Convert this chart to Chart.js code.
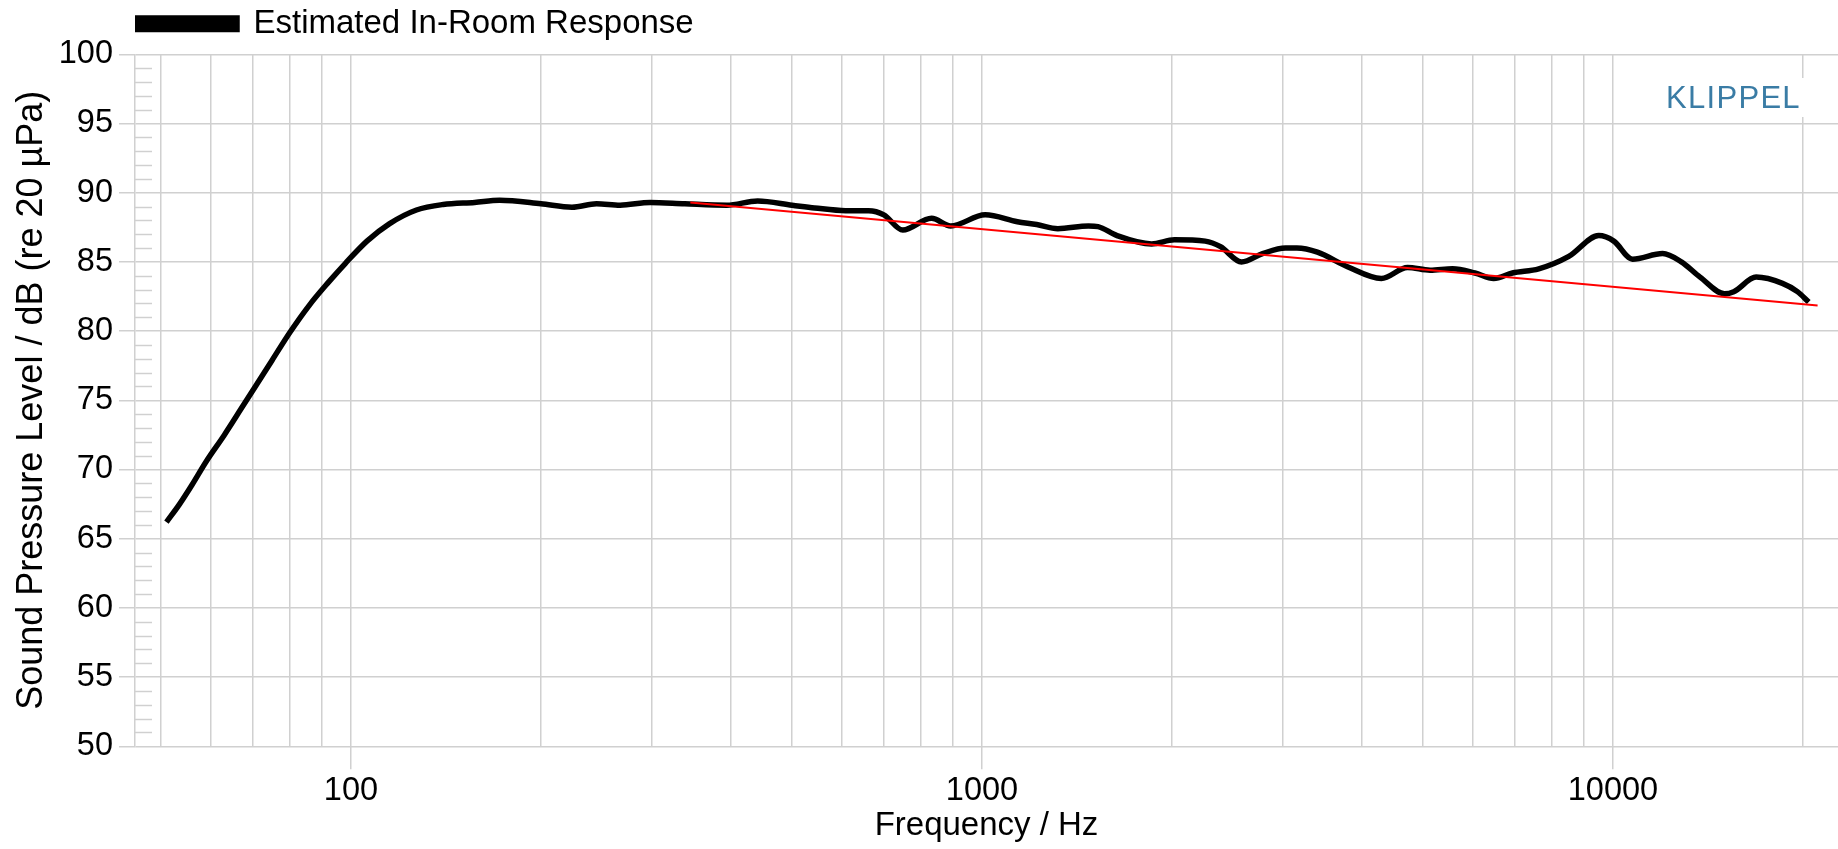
<!DOCTYPE html>
<html>
<head>
<meta charset="utf-8">
<title>Estimated In-Room Response</title>
<script src="https://cdn.jsdelivr.net/npm/chart.js@4.4.1/dist/chart.umd.min.js"></script>
<style>
  html, body { margin: 0; padding: 0; background: #fff; }
  canvas { display: block; }
</style>
</head>
<body>
<canvas id="spl" width="1838" height="849"></canvas>
<script>
// Estimated in-room response (KLIPPEL style plot)
const FREQ_HZ = [51, 53.5, 56, 59, 63, 67, 71, 75, 80, 86, 92, 98, 106, 115, 127, 140, 157, 172,
  200, 224, 245, 267, 298, 338, 394, 441, 500, 543, 608, 661, 699, 749, 832, 892, 1012, 1138,
  1221, 1319, 1475, 1527, 1637, 1857, 2018, 2258, 2388, 2578, 2784, 3027, 3155, 3401, 3795,
  4295, 4725, 5130, 5568, 6043, 6471, 6929, 7627, 8511, 9495, 10030, 10742, 11986, 12834,
  13740, 15020, 15540, 16860, 18560, 19600, 20430];
const SPL_DB = [66.2, 67.5, 68.9, 70.6, 72.5, 74.4, 76.2, 77.9, 79.9, 81.9, 83.5, 84.9, 86.5, 87.75,
  88.75, 89.15, 89.3, 89.45, 89.2, 88.95, 89.2, 89.1, 89.3, 89.2, 89.1, 89.4, 89.1, 88.9, 88.7,
  88.7, 88.4, 87.3, 88.15, 87.6, 88.4, 87.9, 87.7, 87.4, 87.6, 87.55, 86.9, 86.3, 86.6, 86.5,
  86.1, 85.0, 85.6, 86.0, 86.0, 85.7, 84.65, 83.8, 84.6, 84.4, 84.5, 84.2, 83.8, 84.2, 84.5,
  85.4, 86.9, 86.5, 85.2, 85.6, 85.0, 83.9, 82.7, 82.85, 83.9, 83.45, 82.85, 82.1];

// straight trend line (red)
const TREND_HZ = [345, 21100];
const TREND_DB = [89.3, 81.85];

const X_MIN = 45.47;
const X_MAX = 22730;
const X_GRID = [50, 60, 70, 80, 90, 100, 200, 300, 400, 500, 600, 700, 800, 900,
  1000, 2000, 3000, 4000, 5000, 6000, 7000, 8000, 9000, 10000, 20000];
const X_LABELS = [100, 1000, 10000];
const Y_MIN = 50;
const Y_MAX = 100;
const Y_STEP = 5;

const GRID = '#d0d0d0';
const FONT = "'Liberation Sans', Arial, sans-serif";

Chart.defaults.color = '#000';
Chart.defaults.font.family = FONT;

// ── small plugins ────────────────────────────────────────────────
const minorTicks = {
  id: 'minorTicks',
  beforeDatasetsDraw(chart) {
    const { ctx, chartArea, scales: { y } } = chart;
    ctx.save();
    ctx.strokeStyle = GRID;
    ctx.lineWidth = 1.5;
    for (let v = Y_MIN + 1; v < Y_MAX; v++) {
      if (v % Y_STEP === 0) continue;
      const py = Math.round(y.getPixelForValue(v)) + 0.5;
      ctx.beginPath();
      ctx.moveTo(chartArea.left, py);
      ctx.lineTo(chartArea.left + 17, py);
      ctx.stroke();
    }
    ctx.restore();
  }
};

const brand = {
  id: 'brand',
  beforeDatasetsDraw(chart) {
    const ctx = chart.ctx;
    ctx.save();
    ctx.fillStyle = '#fff';
    ctx.fillRect(1660, 78, 150, 39);
    ctx.font = '31px ' + FONT;
    ctx.letterSpacing = '1.3px';
    ctx.fillStyle = '#3a7ca5';
    ctx.textAlign = 'left';
    ctx.textBaseline = 'alphabetic';
    ctx.fillText('KLIPPEL', 1666, 108);
    ctx.restore();
  }
};

const legendNudge = {
  id: 'legendNudge',
  afterLayout(chart) {
    chart.legend.top -= 4;
    chart.legend.bottom -= 4;
  }
};

// ── chart ────────────────────────────────────────────────────────
const ctx = document.getElementById('spl').getContext('2d');
new Chart(ctx, {
  type: 'line',
  data: {
    datasets: [{
      label: 'Estimated In-Room Response',
      data: FREQ_HZ.map((f, i) => ({ x: f, y: SPL_DB[i] })),
      borderColor: '#000',
      backgroundColor: '#000',
      borderWidth: 5.5,
      pointRadius: 0,
      cubicInterpolationMode: 'monotone',
      order: 2
    }, {
      label: 'trend',
      data: TREND_HZ.map((f, i) => ({ x: f, y: TREND_DB[i] })),
      borderColor: '#ff0000',
      backgroundColor: '#ff0000',
      borderWidth: 2,
      pointRadius: 0,
      order: 1
    }]
  },
  options: {
    responsive: false,
    animation: false,
    devicePixelRatio: 1,
    layout: { padding: { top: 9.3, left: 0, right: 0, bottom: 0 } },
    plugins: {
      tooltip: { enabled: false },
      legend: {
        position: 'top',
        align: 'start',
        fullSize: false,
        labels: {
          boxWidth: 100,
          boxHeight: 11.5,
          padding: 2,
          color: '#000',
          font: { size: 33 },
          filter: item => item.text !== 'trend'
        }
      }
    },
    scales: {
      x: {
        type: 'logarithmic',
        min: X_MIN,
        max: X_MAX,
        afterBuildTicks: s => { s.ticks = X_GRID.map(v => ({ value: v })); },
        afterFit: s => { s.height = 102.7; },
        ticks: {
          autoSkip: false,
          maxRotation: 0,
          padding: 2,
          font: { size: 32.5 },
          callback: v => X_LABELS.includes(v) ? String(v) : ''
        },
        grid: {
          color: GRID,
          lineWidth: 1.5,
          tickLength: 23,
          tickColor: c => (c.tick && X_LABELS.includes(c.tick.value)) ? GRID : 'rgba(0,0,0,0)'
        },
        border: { display: false },
        title: {
          display: true,
          text: 'Frequency / Hz',
          font: { size: 33 },
          padding: { top: 0, bottom: 3 }
        }
      },
      y: {
        min: Y_MIN,
        max: Y_MAX,
        afterFit: s => { s.width = 135; },
        ticks: {
          stepSize: Y_STEP,
          padding: 6,
          font: { size: 32.5 }
        },
        grid: { color: GRID, lineWidth: 1.5, tickLength: 16 },
        border: { display: true, color: GRID, width: 1.5 },
        title: {
          display: true,
          text: 'Sound Pressure Level / dB (re 20 µPa)',
          font: { size: 36 },
          padding: { top: 10, bottom: 0 }
        }
      }
    }
  },
  plugins: [minorTicks, brand, legendNudge]
});
</script>
</body>
</html>
